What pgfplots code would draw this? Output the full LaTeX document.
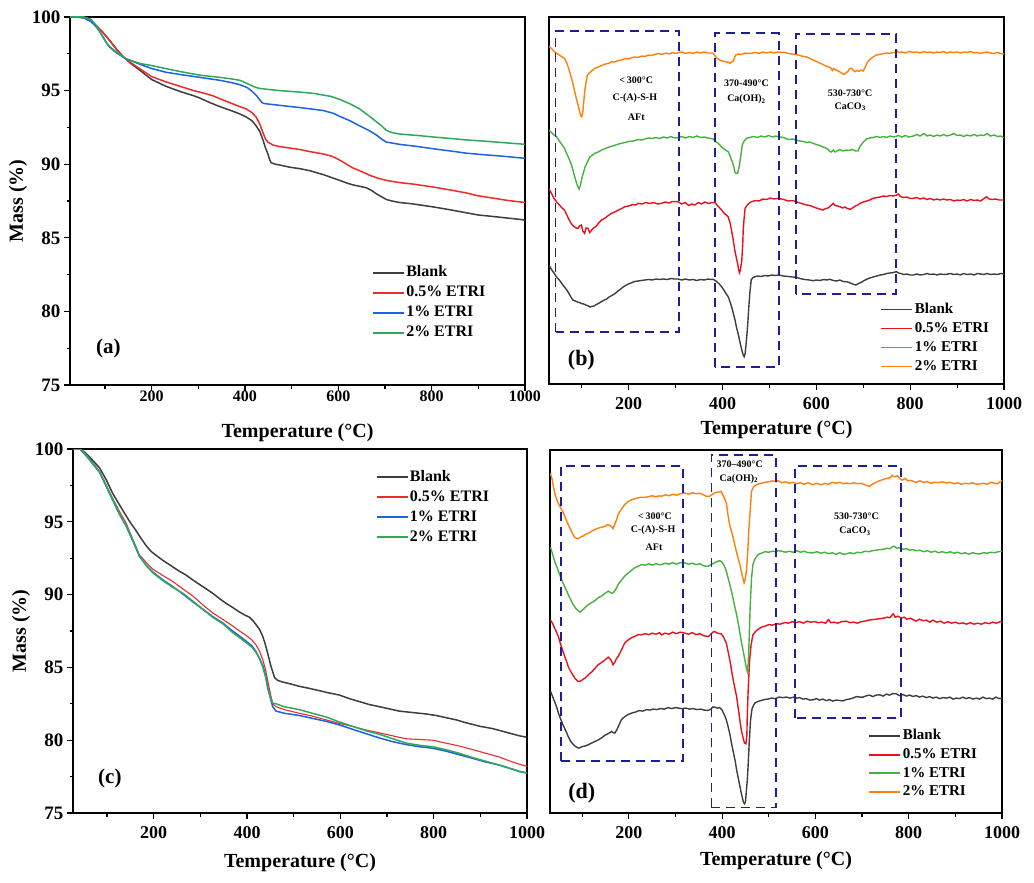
\documentclass[border=0pt]{standalone}
\usepackage{pgfplots}
\pgfplotsset{compat=1.18}
\usepackage{fontspec}
\setmainfont{Liberation Serif}

\definecolor{cBlank}{RGB}{62,62,62}
\definecolor{cRed}{RGB}{238,42,42}
\definecolor{cBlue}{RGB}{28,98,228}
\definecolor{cGreen}{RGB}{48,168,92}
\definecolor{dRed}{RGB}{232,18,28}
\definecolor{dGreen}{RGB}{70,178,62}
\definecolor{dOrange}{RGB}{255,128,10}
\definecolor{cBox}{RGB}{30,30,150}

\newcommand{\fs}[1]{\fontsize{#1}{#1}\selectfont\bfseries}

\tikzset{
  box/.style={draw=cBox, line width=1.8pt, dash pattern=on 9pt off 6pt},
  ann/.style={font=\fs{10}, align=center},
}

\pgfplotsset{
  panel/.style={
    scale only axis,
    axis line style={line width=1.3pt},
    xmax=1000,
    tick align=outside, xtick pos=bottom, ytick pos=left,
    xtick={200,400,600,800,1000}, minor xtick={100,300,500,700,900},
    major tick length=6pt, minor tick length=3.5pt,
    every tick/.style={line width=1.2pt, draw=black},
    /pgf/number format/assume math mode=true,
    /pgf/number format/1000 sep={},
    xlabel={Temperature (°C)},
    every axis x label/.style={at={(rel axis cs:0.5,0)}, anchor=center, yshift=-48pt, font=\fs{20}},
    legend image code/.code={\draw[##1, line width=1.9pt] (0pt,0pt) -- (31pt,0pt);},
    legend cell align=left,
  },
  tga/.style={
    panel, ymin=75, ymax=100,
    ytick={75,80,85,90,95,100}, minor ytick={77.5,82.5,87.5,92.5,97.5},
    yticklabel style={font=\fs{19}},
    ylabel={Mass (\%)},
    every axis y label/.style={at={(rel axis cs:0,0.5)}, xshift=-52pt, rotate=90, anchor=center, font=\fs{20}},
  },
  dtg/.style={
    panel, ytick=\empty, xticklabel style={font=\fs{18}, yshift=-4pt},
  },
  leg/.style n args={4}{
    legend style={draw=none, fill=none, at={(#1,#2)}, anchor=north west, inner sep=0pt,
      row sep=#4, font=\fs{#3},
      nodes={inner sep=1.5pt, text height=11.5pt, text depth=3.5pt},
      /tikz/every even column/.append style={column sep=6pt}},
  },
  tgl/.style={line width=1.5pt},
  dtl/.style={line width=1.4pt},
}

\begin{document}
\begin{tikzpicture}
\useasboundingbox (0pt,0pt) rectangle (1034pt,-883pt);

% ---------------- (a) TGA ----------------
\begin{axis}[tga, at={(70pt,-17pt)}, anchor=north west, width=455pt, height=368pt,
  xmin=25, xticklabel style={font=\fs{16}, yshift=4pt}, leg={0.663}{0.3296}{16}{2pt}]
\addplot[tgl, draw=cBlank] coordinates {(25,100) (40,100) (55,99.95) (70,99.7) (85,99.3) (97,98.9) (110,98.4) (125,97.8) (139,97.3) (155,96.85) (174,96.4) (200,95.75) (230,95.3) (260,94.95) (290,94.65) (303,94.5) (320,94.25) (339,94.0) (356,93.8) (374,93.6) (390,93.4) (403,93.2) (415,92.95) (424,92.6) (432,92.2) (439,91.6) (444,91.1) (449,90.7) (453,90.3) (456,90.1) (465,90.0) (474,89.95) (495,89.8) (517,89.7) (540,89.55) (567,89.3) (585,89.1) (603,88.9) (620,88.7) (631,88.6) (645,88.5) (660,88.4) (672,88.2) (681,88.0) (692,87.8) (703,87.6) (715,87.5) (731,87.4) (760,87.3) (803,87.1) (840,86.9) (874,86.7) (900,86.55) (931,86.45) (960,86.35) (989,86.25) (1000,86.2)};
\addlegendentry{Blank}
\addplot[tgl, draw=cRed] coordinates {(25,100) (40,100) (55,99.95) (70,99.7) (85,99.3) (97,98.9) (110,98.4) (125,97.8) (139,97.3) (155,96.9) (174,96.5) (200,95.95) (230,95.6) (260,95.3) (290,95.0) (303,94.9) (320,94.75) (331,94.65) (350,94.4) (374,94.1) (390,93.9) (403,93.75) (415,93.5) (424,93.2) (432,92.7) (439,92.1) (444,91.7) (449,91.5) (460,91.3) (474,91.2) (495,91.1) (517,91.0) (540,90.85) (567,90.7) (585,90.55) (596,90.4) (610,90.15) (620,89.95) (631,89.75) (650,89.5) (667,89.25) (685,89.05) (703,88.9) (731,88.75) (760,88.65) (803,88.45) (840,88.25) (874,88.05) (900,87.85) (931,87.7) (960,87.55) (1000,87.4)};
\addlegendentry{0.5\% ETRI}
\addplot[tgl, draw=cBlue] coordinates {(25,100) (40,100) (55,99.95) (70,99.7) (82,99.3) (90,98.95) (97,98.6) (103,98.25) (110,97.95) (125,97.55) (146,97.15) (174,96.8) (200,96.5) (230,96.25) (260,96.1) (303,95.9) (346,95.7) (370,95.55) (389,95.4) (405,95.2) (417,94.9) (425,94.65) (431,94.4) (436,94.2) (441,94.12) (474,94.0) (517,93.85) (567,93.65) (590,93.45) (603,93.25) (625,92.95) (646,92.6) (665,92.3) (681,92.0) (693,91.7) (703,91.5) (731,91.35) (770,91.2) (803,91.05) (840,90.9) (874,90.75) (910,90.65) (950,90.55) (1000,90.4)};
\addlegendentry{1\% ETRI}
\addplot[tgl, draw=cGreen] coordinates {(25,100) (40,100) (55,100) (70,99.85) (82,99.4) (90,98.95) (97,98.55) (103,98.25) (110,98.0) (125,97.6) (146,97.15) (174,96.85) (200,96.7) (230,96.5) (260,96.3) (303,96.05) (346,95.9) (370,95.8) (389,95.7) (400,95.55) (410,95.4) (420,95.25) (431,95.15) (450,95.08) (474,95.0) (517,94.9) (550,94.8) (567,94.7) (585,94.6) (603,94.4) (625,94.1) (646,93.75) (665,93.3) (681,92.9) (693,92.6) (703,92.3) (715,92.15) (731,92.05) (770,91.95) (803,91.85) (840,91.75) (874,91.65) (920,91.55) (960,91.45) (1000,91.35)};
\addlegendentry{2\% ETRI}
\node[font=\fs{21}] at (axis cs:107,77.5) {(a)};
\end{axis}

% ---------------- (b) DTG ----------------
\begin{axis}[dtg, at={(549pt,-17pt)}, anchor=north west, width=455pt, height=367pt,
  xmin=30, ymin=0, ymax=367, leg={0.728}{0.228}{15}{1pt},
  every axis x label/.append style={yshift=2pt}]
\addplot[dtl, draw=cBlank] coordinates {(30,119) (36,114) (42,110) (46,107) (52,104) (58,100) (63,97) (68,94) (73,90) (78,86) (81,84) (86,83) (91,82) (95,81.5) (99,80.5) (104,80) (108,79) (112,78.5) (117,77) (121,77.5) (126,78) (131,79.5) (137,81) (142,82.5) (148,84) (153,85) (158,87) (164,88.5) (171,90.5) (177,93) (183,95) (188,97) (193,98.5) (199,100) (205,101) (212,102.5) (220,103) (227,103.5) (234,104) (242,104.5) (250,104) (258,105) (266,104.5) (274,105) (282,104.5) (290,105.5) (298,105) (305,105) (313,104) (321,105) (329,104) (337,104.5) (345,103.5) (353,104.5) (361,104) (369,105) (375,104.5) (380,104.7) (386,103) (392,100.5) (398,97.3) (404,93) (408,90) (412,87.3) (416,82) (420,76) (423,70.7) (427,63) (430,56) (433,50.7) (437,42) (440,36) (442,32.3) (444,29) (446,27.3) (448,30) (451,44) (454,62) (456,77.3) (458,90) (461,104) (465,106.5) (469,107.3) (475,108) (482,107.5) (490,108.5) (497,108) (505,109) (512,108.5) (519,109) (530,108) (540,107.5) (549,107) (557,106.7) (565,105.5) (575,104.5) (585,104) (593,103.3) (600,104) (608,103.5) (615,104.5) (622,104) (629,104.7) (636,103.5) (643,103) (650,104) (657,102.5) (664,102.3) (670,101.5) (677,100) (684,99) (690,100.5) (697,102) (702,103.5) (707,104.7) (714,106) (721,107) (729,108) (736,109) (743,109.5) (750,110.5) (757,111) (764,111.5) (771,112.3) (775,111) (780,110.5) (786,109.5) (793,110) (800,109) (807,109) (814,110) (821,109) (829,109.5) (836,110.5) (843,109.5) (850,110) (857,109) (864,110) (871,109.5) (878,109.7) (886,110.5) (893,109.5) (900,110) (907,109) (914,110.5) (921,109.5) (929,110) (936,109) (943,110.5) (950,110) (957,109.5) (964,110.5) (971,109.5) (979,110) (986,109.5) (993,110.5) (1000,110)};
\addlegendentry{Blank}
\addplot[dtl, draw=dRed] coordinates {(30,195) (35,191) (40,186) (46,182.3) (52,179) (58,176) (63,174) (68,169) (73,164) (78,160) (82,158) (84,157.3) (88,156) (92,155.7) (95,158) (99,159) (102,153) (106,150.7) (109,156) (113,155.7) (117,151.5) (121,154) (125,156) (130,157.5) (136,161) (142,164) (148,165.5) (155,168) (163,170.7) (170,172) (178,174) (185,175.5) (192,177.3) (200,178) (208,179.5) (215,179) (220,180.7) (228,180) (236,181.5) (245,180.5) (253,181.5) (262,180) (270,180.7) (278,182) (286,181) (293,182.5) (305,182.3) (313,180) (320,181.5) (328,178.5) (334,180) (341,179) (348,181.5) (355,180) (362,182) (370,180.5) (377,181.5) (384,181.3) (390,178) (394,176) (398,174) (403,171) (408,169) (412,167.3) (416,161) (419,154) (422,146) (426,134) (429,127) (432,120.7) (434,115) (436,111.3) (438,114) (441,124) (443,140) (444,154) (446,166) (448,175.7) (452,178.5) (457,181) (462,182.3) (470,183.5) (478,183) (486,185) (494,184.5) (502,186) (510,185) (519,185.7) (530,184.5) (540,183) (549,183.5) (557,182.3) (565,181) (572,180) (579,179) (586,178.5) (593,177.3) (600,176) (607,175) (614,174) (620,175.5) (625,176) (630,178) (636,180.7) (640,178.5) (645,178) (650,177.3) (656,176) (661,177) (666,175.5) (672,174.7) (677,176) (683,178) (688,179) (693,180.7) (700,182) (707,183) (714,184) (721,185.7) (729,186.5) (736,187) (743,188) (750,187.5) (757,188.5) (764,188) (771,189) (775,190) (779,187.5) (786,186.5) (793,187) (800,185.5) (807,185.7) (814,186.5) (821,185) (829,186) (836,184.5) (843,185.5) (850,184) (857,185) (864,184) (871,185) (878,184) (886,184.5) (893,183) (900,184) (907,183.5) (914,184.5) (921,183) (929,184.5) (936,183.5) (943,184) (950,183) (957,185.5) (963,187.3) (968,185) (975,184.5) (982,185) (990,184) (1000,184)};
\addlegendentry{0.5\% ETRI}
\addplot[dtl, draw=dGreen] coordinates {(30,254) (36,251) (41,249) (46,247.3) (52,243) (58,239) (63,235.7) (68,230) (73,225) (78,219) (82,212) (85,207) (88,202) (91,198) (94,195) (97,199) (100,205.7) (103,211) (107,217) (112,222) (117,227) (123,229) (129,231) (135,232) (142,234) (150,235.5) (158,237) (166,238) (175,239.5) (184,240.7) (192,241.5) (200,242.5) (210,243) (220,244.5) (228,244) (234,245) (242,246) (250,245.5) (258,246.5) (266,245.5) (274,247) (282,246) (290,247.5) (298,246) (305,246.3) (313,247.5) (321,246) (329,247.5) (337,246.5) (345,248) (353,246.5) (361,247) (369,246) (376,245.5) (380,245) (386,242) (391,240.7) (396,238) (401,235.7) (406,234) (412,232.3) (416,228) (419,224) (421,222) (424,217) (426,212.3) (429,210.5) (432,210.7) (434,214) (437,222) (440,232) (442,239) (446,243) (451,245.7) (458,246.5) (466,247.5) (474,246.5) (482,248) (490,247) (498,248.5) (506,247) (513,248) (519,247.3) (530,246.5) (540,244.5) (550,245) (557,244) (565,243) (572,242.5) (579,241.5) (586,242) (593,240.7) (600,239.5) (607,238.5) (614,237) (620,236) (625,234.5) (629,232.5) (632,232) (636,234) (640,232) (645,233.5) (650,234.5) (657,233) (664,234) (670,233.5) (677,234.5) (684,233) (689,233) (692,237) (697,240) (702,243) (707,245) (714,246) (721,246.5) (729,247.5) (736,246.5) (743,247.5) (750,246.5) (757,248) (764,247) (768,247.3) (775,248.5) (782,247) (790,248.5) (797,247) (807,248) (814,249.5) (821,248) (829,250.5) (836,248) (843,249) (850,247.5) (857,249) (864,248) (871,249.5) (878,248) (886,249) (893,250.5) (900,248.5) (907,249) (914,247.5) (921,249) (929,248) (936,249.5) (943,248) (950,249) (957,248.5) (964,250.5) (971,248) (979,249) (986,247.5) (993,248) (1000,246.3)};
\addlegendentry{1\% ETRI}
\addplot[dtl, draw=dOrange] coordinates {(30,338) (34,336) (38,334) (42,332) (46,330.7) (52,329) (58,327) (63,325.7) (68,321) (73,314) (78,305.7) (82,298) (86,290) (89,284) (92,279) (95,273) (98,268) (100,267.3) (102,272) (104,282) (106,292.3) (109,302) (112,309) (116,311) (121,313) (128,315.7) (135,317) (142,318.5) (150,320) (157,320.5) (163,322.3) (170,322) (178,323.5) (185,324) (192,325.5) (199,325) (206,326.3) (213,327) (220,326.5) (228,328) (235,327.5) (242,329) (249,328.5) (256,329.7) (264,330.5) (271,329.5) (279,331) (286,330) (293,331.5) (300,330.5) (305,331.3) (313,332) (321,330.5) (329,331.5) (337,330.5) (345,332) (353,331) (361,332) (369,331) (376,331) (380,330.7) (384,328) (387,326.3) (392,324.5) (398,323) (404,322.5) (409,322.3) (413,321.5) (416,320.7) (419,322) (423,323) (426,327) (428,329) (433,330) (440,329.5) (448,331) (455,330.5) (462,330.7) (470,331.5) (478,330.5) (486,332) (494,331) (502,332) (510,331) (518,332) (526,331.5) (533,331.7) (540,330.5) (548,330) (557,329.5) (565,328.5) (572,327.5) (580,327) (587,325.5) (593,324) (600,322.5) (607,321) (614,319.5) (620,318) (626,317) (630,316.5) (634,313.5) (637,315.7) (641,314) (645,313.5) (650,312) (655,310.5) (659,309.7) (663,311) (667,312.5) (671,315.5) (675,315.7) (679,313.5) (682,312.3) (686,313.5) (690,312.5) (695,314) (700,313) (705,318) (709,322) (715,325) (721,327) (728,329) (736,329.7) (743,330.5) (750,331) (757,330.5) (764,331.5) (768,331.7) (771,333.5) (775,331.5) (782,332) (790,331) (797,332.5) (807,331.7) (814,332) (821,331) (829,332.5) (836,331.5) (843,332) (850,331) (857,332) (864,331.5) (871,332.5) (878,331) (886,332) (893,331.5) (900,332) (907,331) (914,332) (921,331.5) (929,332.5) (936,331) (943,331.5) (950,330.5) (957,331.5) (964,332) (971,331) (979,330.5) (986,331.5) (993,330.5) (1000,330)};
\addlegendentry{2\% ETRI}
\draw[box] (axis cs:44,52.3) rectangle (axis cs:307,353);
\draw[box] (axis cs:383.6,17.3) rectangle (axis cs:520.8,350.7);
\draw[box] (axis cs:556.5,89.7) rectangle (axis cs:770,349.7);
\node[ann] at (axis cs:216,304) {<\,300°C};
\node[ann] at (axis cs:213,285.7) {C-(A)-S-H};
\node[ann] at (axis cs:216,266.3) {AFt};
\node[ann] at (axis cs:451,300.7) {370-490°C};
\node[ann] at (axis cs:451,284.7) {Ca(OH)\textsubscript{2}};
\node[ann] at (axis cs:672,290.7) {530-730°C};
\node[ann] at (axis cs:672,277.3) {CaCO\textsubscript{3}};
\node[font=\fs{22}] at (axis cs:99,24) {(b)};
\end{axis}

% ---------------- (c) TGA ----------------
\begin{axis}[tga, at={(73pt,-449pt)}, anchor=north west, width=454pt, height=364pt,
  xmin=27, xticklabel style={font=\fs{18}, yshift=-4pt}, leg={0.666}{0.948}{16}{2pt},
  every axis x label/.append style={yshift=-2pt}]
\addplot[tgl, draw=cBlank] coordinates {(27,100) (42,100) (55,99.7) (70,99.2) (84,98.7) (98,97.9) (112,96.95) (126,96.2) (141,95.4) (152,94.85) (162,94.4) (173,93.85) (184,93.35) (195,92.95) (205,92.7) (222,92.3) (241,91.9) (255,91.6) (269,91.35) (284,91.0) (298,90.7) (312,90.4) (326,90.1) (340,89.75) (355,89.4) (370,89.1) (384,88.8) (395,88.6) (405,88.45) (413,88.2) (419,87.95) (427,87.6) (434,87.1) (439,86.6) (444,86.0) (448,85.5) (451,85.1) (455,84.7) (459,84.3) (466,84.1) (476,84.0) (495,83.85) (512,83.7) (535,83.55) (555,83.4) (575,83.25) (598,83.1) (620,82.85) (641,82.65) (662,82.45) (684,82.3) (705,82.15) (726,82.0) (755,81.9) (784,81.8) (805,81.7) (826,81.55) (848,81.4) (869,81.2) (900,80.95) (926,80.8) (955,80.55) (984,80.3) (1000,80.2)};
\addlegendentry{Blank}
\addplot[line width=1.1pt, draw=cRed] coordinates {(27,100) (42,100) (55,99.6) (70,99.05) (84,98.45) (98,97.55) (112,96.6) (126,95.75) (141,94.9) (155,93.8) (169,92.75) (184,92.2) (198,91.75) (220,91.3) (241,90.9) (262,90.4) (284,89.9) (305,89.3) (326,88.75) (348,88.3) (369,87.85) (384,87.5) (398,87.2) (410,86.9) (419,86.55) (427,86.1) (434,85.5) (440,84.8) (444,84.15) (450,83.2) (455,82.5) (462,82.3) (480,82.1) (512,81.85) (540,81.65) (569,81.4) (598,81.15) (626,80.95) (655,80.7) (684,80.5) (712,80.3) (741,80.1) (770,80.05) (798,80.0) (826,79.8) (855,79.6) (884,79.35) (912,79.1) (940,78.85) (965,78.55) (984,78.35) (1000,78.2)};
\addlegendentry{0.5\% ETRI}
\addplot[tgl, draw=cBlue] coordinates {(27,100) (42,100) (55,99.55) (70,98.95) (84,98.4) (98,97.45) (112,96.5) (126,95.55) (141,94.7) (155,93.7) (169,92.65) (184,92.0) (198,91.55) (220,91.0) (241,90.55) (262,90.05) (284,89.5) (305,89.0) (326,88.5) (348,88.05) (369,87.5) (384,87.15) (398,86.8) (410,86.5) (419,86.1) (427,85.6) (434,85.1) (440,84.4) (444,83.7) (450,82.9) (455,82.3) (462,82.0) (480,81.85) (512,81.7) (540,81.5) (569,81.3) (598,81.05) (626,80.75) (655,80.45) (684,80.15) (712,79.9) (741,79.7) (770,79.55) (798,79.45) (826,79.25) (855,79.0) (884,78.75) (912,78.5) (940,78.3) (965,78.05) (984,77.85) (1000,77.75)};
\addlegendentry{1\% ETRI}
\addplot[tgl, draw=cGreen] coordinates {(27,100) (42,100) (55,99.6) (70,99.0) (84,98.4) (98,97.5) (112,96.55) (126,95.6) (141,94.75) (155,93.75) (169,92.7) (184,92.0) (198,91.5) (220,90.95) (241,90.5) (262,90.1) (284,89.55) (305,89.0) (326,88.45) (348,88.0) (369,87.4) (384,87.05) (398,86.7) (410,86.4) (419,86.05) (427,85.6) (434,85.0) (440,84.3) (444,83.6) (450,82.95) (455,82.55) (462,82.5) (480,82.3) (512,82.1) (540,81.85) (569,81.6) (598,81.25) (626,80.95) (655,80.65) (684,80.4) (712,80.1) (741,79.8) (770,79.65) (798,79.55) (826,79.35) (855,79.1) (884,78.8) (912,78.55) (940,78.3) (965,78.05) (984,77.85) (1000,77.75)};
\addlegendentry{2\% ETRI}
\node[font=\fs{21}] at (axis cs:106,77.4) {(c)};
\end{axis}

% ---------------- (d) DTG ----------------
\begin{axis}[dtg, at={(550pt,-450pt)}, anchor=north west, width=452pt, height=363pt,
  xmin=31, ymin=0, ymax=363.3, leg={0.704}{0.2376}{15}{0.6pt},
  every axis x label/.append style={yshift=0.5pt}]
\addplot[dtl, draw=cBlank] coordinates {(32,122) (37,116) (42,110) (46,105) (49,100) (53,95) (58,89) (63,84) (67,80) (70,76.6) (75,72) (80,69) (86,66.5) (92,65) (96,65.5) (100,66.5) (106,67) (113,68.3) (120,70) (127,71.5) (134,73) (141,75) (148,77.5) (156,79.5) (163,81.6) (166,80.5) (170,80) (174,83) (178,87) (184,93.3) (190,96) (198,98.5) (206,100) (214,101) (222,102.5) (230,102) (238,103.5) (245,103) (252,104) (260,103.5) (268,104.5) (276,104) (284,105.5) (292,104.5) (300,105.5) (306,105) (314,104.5) (322,105) (330,104) (338,104.5) (346,103.5) (354,104) (362,103) (370,102.6) (376,104) (380,106) (384,106) (390,105) (395,105.5) (400,103) (405,98) (409,93.3) (413,86) (417,78) (420,70) (424,61) (428,52) (431,43.3) (435,34) (438,27) (441,20) (444,14) (446,10.5) (448,9.3) (450,11) (452,22) (454,33.3) (456,50) (458,70) (461,93.3) (464,104) (467,107.5) (470,110) (476,111.5) (483,112.5) (490,113.5) (498,114) (506,115) (514,114.5) (522,116) (530,115.5) (538,116) (546,115) (553,116) (560,115) (566,115.5) (573,114) (580,114.5) (588,113) (595,113.3) (602,114.5) (609,113) (616,114) (623,112.5) (630,113.5) (637,112) (645,113) (652,112.6) (659,112.2) (666,113.5) (673,114) (680,115) (688,116.5) (695,116) (702,116) (709,117.3) (716,118) (723,116.5) (730,118) (738,118.3) (745,117) (752,119) (759,118) (766,119.5) (773,119.3) (780,117.5) (788,118.5) (795,117) (802,118) (809,116.6) (816,117.5) (823,116) (830,117) (838,115.5) (845,116.5) (852,115) (859,116) (866,114.5) (874,115.5) (881,115) (888,116) (895,114) (902,115) (909,114.5) (916,116) (923,114.5) (930,115.5) (938,114) (945,115) (952,114) (959,116) (966,114.5) (973,115) (980,114) (987,116) (994,114.5) (1000,115)};
\addlegendentry{Blank}
\addplot[dtl, draw=dRed] coordinates {(32,193.3) (36,190) (40,186) (44,182) (49,176.6) (53,170) (58,163) (63,156) (67,151) (70,146.6) (75,142) (80,138) (86,134) (91,131.6) (96,132) (101,133.5) (106,135) (113,138.3) (120,141) (127,144.5) (134,148.3) (141,150.5) (148,153) (156,156) (160,154) (163,152) (166,148.3) (170,151) (174,155) (177,156.6) (184,163) (191,170) (198,173) (206,175.5) (214,177) (220,178.5) (227,178.3) (235,179.5) (243,178.5) (250,180) (258,179) (266,180.5) (270,178.3) (278,180) (286,179) (294,181) (302,179.5) (310,181) (320,180) (328,179) (336,180.5) (344,178.5) (352,179.5) (360,177.5) (366,177) (370,176.6) (375,178.5) (380,181) (384,181.6) (390,180) (398,179.3) (403,176) (409,170) (413,161) (417,152) (420,143.3) (425,130) (431,116.6) (436,100) (441,83.3) (445,75) (448,70) (451,69.3) (453,78) (454,100) (456,125) (459,153.3) (462,168) (466,178.3) (472,182) (478,184) (484,186) (492,187) (500,188.5) (508,188) (516,189.5) (524,189) (534,190.6) (542,190) (550,191.5) (558,190.5) (566,191.5) (574,190) (582,192) (590,191) (598,191.5) (606,190.5) (614,191) (622,190) (628,193.6) (633,190.5) (640,191) (648,190) (656,191.5) (666,192) (674,190.5) (682,191) (690,190) (698,191.5) (706,192) (714,193) (722,193.5) (730,194) (738,194.5) (746,195) (754,196) (760,195.5) (764,198) (767,199.3) (771,196) (777,197) (784,195) (790,196) (796,194) (804,195) (809,193.6) (816,192) (823,194) (830,192.5) (838,193) (845,191) (852,193) (860,191) (868,192) (876,190) (884,191.5) (892,190) (900,191) (908,189.5) (916,190.3) (924,189) (932,190.5) (940,189) (948,190) (956,189) (964,190.5) (972,189.5) (980,191) (988,190) (996,191.5) (1000,191.3)};
\addlegendentry{0.5\% ETRI}
\addplot[dtl, draw=dGreen] coordinates {(32,266) (36,260) (41,252) (45,247) (49,242) (53,237) (58,231) (63,226) (67,222) (70,218.6) (75,214) (80,209) (86,205) (92,202) (96,201) (100,203) (106,205.5) (113,208.6) (120,210.5) (127,212.5) (134,215.3) (141,217) (148,219.5) (156,222) (160,221) (163,220) (166,220.3) (170,222.5) (174,225.5) (177,228.6) (184,233) (191,237) (199,240.3) (206,243) (213,245.5) (220,247) (227,248.6) (235,248) (243,249.5) (250,248) (258,249.5) (266,248.5) (270,248.6) (278,250) (286,249) (294,250.5) (302,249) (310,250.5) (320,250.3) (328,249) (336,250) (344,248.5) (352,249.5) (360,247.5) (366,247) (370,247) (376,248.5) (382,250) (388,251.5) (395,252.6) (400,251) (405,247) (409,242) (414,233) (420,222) (425,211) (431,198.6) (436,186) (441,172) (446,160) (450,150) (452,145) (454,141.6) (456,150) (458,175) (460,205) (463,235) (466,248.6) (470,254) (477,258.6) (484,260) (492,261.5) (500,261) (508,262) (516,261.5) (520,262.6) (528,262) (536,261) (544,262) (552,261) (560,262.5) (568,261) (576,262) (584,260.5) (595,260.3) (603,261.5) (612,260) (620,261) (628,259.5) (636,260.5) (644,259) (652,260.5) (660,259) (666,259.3) (674,260.5) (682,259.5) (690,261) (698,260.5) (706,262) (714,261.5) (722,262.5) (730,263) (738,263.6) (746,264) (754,265) (760,264.5) (765,266.5) (769,267) (774,265) (780,265.5) (788,264) (796,264.5) (802,263) (809,263.6) (816,262.5) (824,263) (832,261.5) (840,262.5) (848,261) (856,262) (864,260.5) (872,261.5) (881,260.3) (889,261.5) (897,260) (905,261) (913,259.5) (921,260.5) (929,259) (937,260.5) (945,259.5) (952,259.3) (960,260.5) (968,260) (976,261) (984,260.5) (992,261.5) (1000,262)};
\addlegendentry{1\% ETRI}
\addplot[dtl, draw=dOrange] coordinates {(32,340) (36,333) (39,325) (42,318.6) (46,313) (51,308) (56,303.6) (61,299) (66,293) (70,288.6) (75,284) (80,279) (84,276) (88,275) (92,274.6) (96,276) (101,277) (106,278.6) (113,280) (120,282) (127,283.6) (134,285) (141,286) (149,287) (154,288.5) (159,288) (163,286.5) (166,284.6) (170,289) (174,294) (177,298.6) (184,304) (191,308.6) (198,311.5) (206,313.6) (213,314.5) (220,315.5) (227,316) (234,316) (242,316.5) (250,317.5) (258,316.5) (266,317.5) (270,317) (278,318.5) (286,317.5) (294,319) (302,318) (310,319.5) (320,320.3) (328,319) (336,320.5) (344,319.5) (352,320) (360,318.5) (366,317) (373,317) (378,318.5) (384,320.3) (390,321) (395,321.5) (398,322) (402,318) (406,314) (409,310.3) (412,300) (416,288.6) (420,282) (424,275) (427,268.6) (432,259) (438,248.6) (442,240) (445,234) (447,230.3) (449,233) (452,242) (455,262) (457,282) (460,302) (463,322) (467,326) (472,328) (477,329.3) (484,330) (492,331) (500,331.5) (508,332.5) (516,331.5) (520,332.6) (528,330.5) (536,331.5) (544,330) (552,331) (560,329.5) (568,330.5) (576,329) (584,330.5) (595,328.6) (603,330) (612,328.5) (620,330) (628,329) (636,331) (644,330) (652,331) (660,329.5) (666,330.3) (674,329.5) (682,330.5) (690,329.5) (698,330) (706,328.5) (712,327.5) (716,327) (722,329) (730,331) (738,332.6) (746,334) (754,335) (760,335.5) (764,338) (767,337) (771,336.5) (776,337.5) (781,334.6) (786,333) (792,335) (798,332.5) (804,333) (809,332) (816,331) (824,332.5) (832,331) (840,331.5) (848,330) (856,331) (864,330.5) (872,331.5) (881,330.3) (889,331) (897,329.5) (905,330.5) (913,329) (921,330) (929,329.5) (937,330.5) (945,329) (952,329.3) (960,330) (968,329) (976,331) (984,330) (990,329.5) (996,331.5) (1000,332.6)};
\addlegendentry{2\% ETRI}
\draw[box] (axis cs:55,51.7) rectangle (axis cs:316,347.3);
\draw[box] (axis cs:377,5.6) rectangle (axis cs:515,358.3);
\draw[box] (axis cs:557,95) rectangle (axis cs:784,347.3);
\node[ann] at (axis cs:256,297) {<\,300°C};
\node[ann] at (axis cs:252,283.6) {C-(A)-S-H};
\node[ann] at (axis cs:254,266) {AFt};
\node[ann] at (axis cs:438,348.6) {370–490°C};
\node[ann] at (axis cs:436,334.6) {Ca(OH)\textsubscript{2}};
\node[ann] at (axis cs:688,297) {530-730°C};
\node[ann] at (axis cs:685,282) {CaCO\textsubscript{3}};
\node[font=\fs{22}] at (axis cs:99,20) {(d)};
\end{axis}
\end{tikzpicture}
\end{document}
